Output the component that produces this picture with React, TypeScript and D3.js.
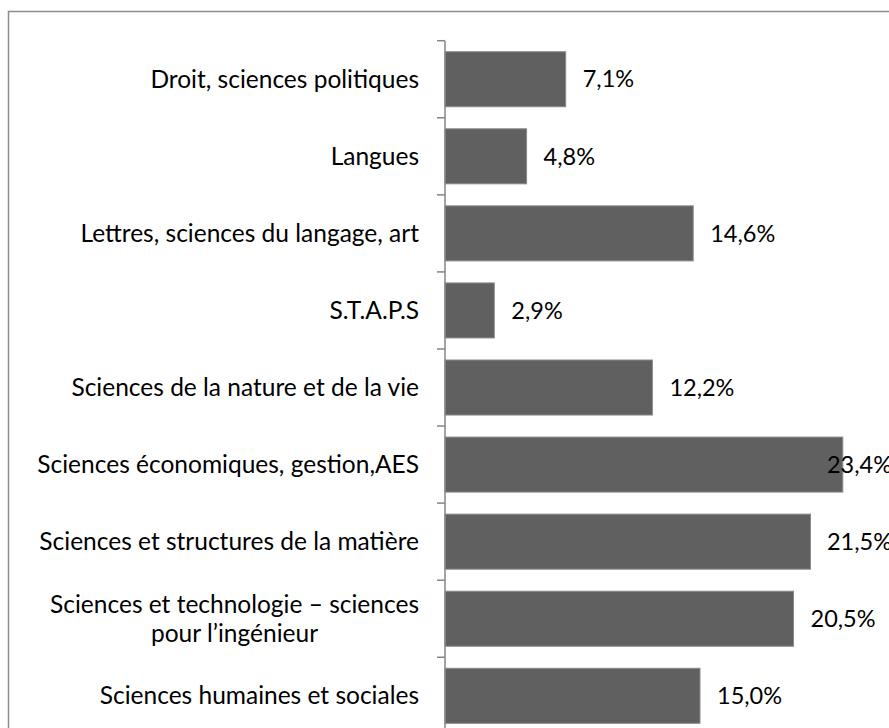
import React, { useRef, useEffect } from 'react';
import * as d3 from 'd3';

const categories = [
  'Droit, sciences politiques',
  'Langues',
  'Lettres, sciences du langage, art',
  'S.T.A.P.S',
  'Sciences de la nature et de la vie',
  'Sciences économiques, gestion,AES',
  'Sciences et structures de la matière',
  'Sciences et technologie – sciences\npour l’ingénieur',
  'Sciences humaines et sociales',
];

const values = [7.1, 4.8, 14.6, 2.9, 12.2, 23.4, 21.5, 20.5, 15.0];

const xDomain = [0, 25];

const W = 889;
const H = 728;
const FONT = 'Lato, "Noto Sans", sans-serif';

const fmt = (v: number) => d3.format('.1f')(v).replace('.', ',') + '%';

export default function App() {
  const svgRef = useRef<SVGSVGElement>(null);

  useEffect(() => {
    const svg = d3.select(svgRef.current).attr('width', W).attr('height', H);
    svg.selectAll('*').remove();

    // cadre (coupé à droite et en bas comme l'original)
    svg
      .append('rect')
      .attr('x', 8.5)
      .attr('y', 11.5)
      .attr('width', 920)
      .attr('height', 800)
      .attr('fill', '#fff')
      .attr('stroke', '#8c8c8c')
      .attr('stroke-width', 1.5);

    const top = 40.7;
    const step = 77.07;
    const axisX = 445;

    const y = d3
      .scaleBand<string>()
      .domain(categories)
      .range([top, top + step * categories.length])
      .paddingInner(0.286)
      .paddingOuter(0.143);

    const x = d3.scaleLinear().domain(xDomain).range([axisX, axisX + 17 * 25]);

    const chart = svg.append('g');

    // barres
    chart
      .selectAll('.bar')
      .data(values)
      .enter()
      .append('rect')
      .attr('x', x(0))
      .attr('y', (d, i) => y(categories[i])!)
      .attr('width', d => x(d) - x(0))
      .attr('height', y.bandwidth())
      .attr('fill', '#606060')
      .attr('stroke', '#8a8a8a')
      .attr('stroke-width', 1);

    // axe vertical + graduations
    const pad = (y.step() * y.paddingInner()) / 2;
    chart
      .append('line')
      .attr('x1', axisX)
      .attr('x2', axisX)
      .attr('y1', top)
      .attr('y2', H + 10)
      .attr('stroke', '#868686')
      .attr('stroke-width', 1.5);
    const ticks = categories.map(c => y(c)! - pad);
    chart
      .selectAll('.tick')
      .data(ticks)
      .enter()
      .append('line')
      .attr('x1', axisX - 8)
      .attr('x2', axisX)
      .attr('y1', d => d)
      .attr('y2', d => d)
      .attr('stroke', '#868686')
      .attr('stroke-width', 1.5);

    // libellés des catégories
    const labelRight = 419;
    categories.forEach(c => {
      const lines = c.split('\n');
      const cy = y(c)! + y.bandwidth() / 2;
      const lh = 29;
      const g = chart.append('g');
      const texts = lines.map((ln, j) =>
        g
          .append('text')
          .attr('y', cy + (j - (lines.length - 1) / 2) * lh)
          .attr('dy', '0.35em')
          .attr('font-family', FONT)
          .attr('font-size', 24.5)
          .attr('fill', '#000')
          .text(ln)
      );
      const widths = texts.map(t => (t.node() as SVGTextElement).getComputedTextLength());
      const maxW = d3.max(widths) || 0;
      texts.forEach(t => {
        if (lines.length === 1) t.attr('x', labelRight).attr('text-anchor', 'end');
        else t.attr('x', labelRight - maxW / 2).attr('text-anchor', 'middle');
      });
    });

    // étiquettes de valeurs
    values.forEach((v, i) => {
      const t = chart
        .append('text')
        .attr('y', y(categories[i])! + y.bandwidth() / 2)
        .attr('dy', '0.35em')
        .attr('font-family', FONT)
        .attr('font-size', 23.5)
        .attr('fill', '#000')
        .text(fmt(v));
      const len = (t.node() as SVGTextElement).getComputedTextLength();
      let lx = x(v) + 17;
      if (lx + len > W + 3) lx = W + 3 - len;
      t.attr('x', lx);
    });
  }, []);

  return (
    <div style={{ position: 'absolute', left: 0, top: 0, width: W, height: H, overflow: 'hidden', background: '#fff' }}>
      <svg ref={svgRef} style={{ display: 'block' }}></svg>
    </div>
  );
}
